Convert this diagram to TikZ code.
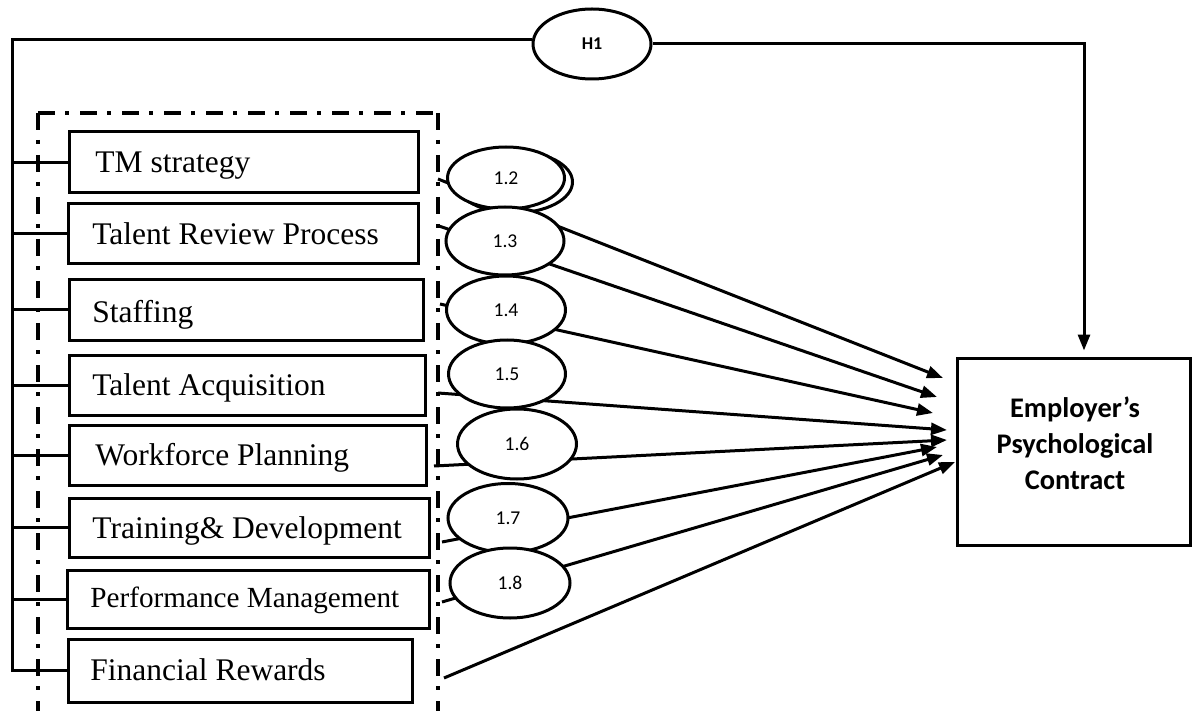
\documentclass[tikz,border=0pt]{standalone}
\usepackage{fontspec}
\setmainfont{Liberation Serif}
\newfontfamily\calib{Carlito}
\usetikzlibrary{arrows.meta,shapes.geometric}
\begin{document}
\begin{tikzpicture}[x=0.5pt,y=-0.5pt,
  ln/.style={line width=1.5pt},
  fbox/.style={draw,line width=1.5pt,rectangle,inner sep=0pt},
  ftext/.style={anchor=base west,inner sep=0pt,font=\fontsize{15.75}{18}\selectfont},
  oval/.style={draw,ellipse,fill=white,line width=1.5pt,inner sep=0pt,font=\calib\fontsize{9.8}{11}\selectfont},
  arr/.style={line width=1.5pt,-{Triangle[length=8pt,width=6pt]}},
  dd/.style={line width=2pt,dash pattern=on 8.5pt off 5pt on 2pt off 5.5pt}
]
\useasboundingbox (0,0) rectangle (1194,711);

% dash-dot frame
\draw[dd] (38,113) -- (438,113);
\draw[dd] (38,113) -- (38,711);
\draw[dd] (438,113) -- (438,711);

% left boxes
\node[fbox,minimum width=174.5pt,minimum height=30.5pt] (b1) at (243.5,162.5) {};
\node[fbox,minimum width=175pt,minimum height=30pt] (b2) at (243,234) {};
\node[fbox,minimum width=177pt,minimum height=30pt] (b3) at (246,310) {};
\node[fbox,minimum width=178pt,minimum height=30pt] (b4) at (247,385) {};
\node[fbox,minimum width=178.5pt,minimum height=30pt] (b5) at (247.5,455) {};
\node[fbox,minimum width=180pt,minimum height=29.5pt] (b6) at (249,527.5) {};
\node[fbox,minimum width=181pt,minimum height=29pt] (b7) at (248,599) {};
\node[fbox,minimum width=172pt,minimum height=31.5pt] (b8) at (240,670.5) {};

\node[ftext] (x1) at (95,173) {TM strategy};
\node[ftext] (x2) at (92,245) {Talent Review Process};
\node[ftext] (x3) at (92,322) {Staffing};
\node[ftext] (x4) at (92,395) {Talent Acquisition};
\node[ftext] (x5) at (95,465) {Workforce Planning};
\node[ftext] (x6) at (92,538) {Training\& Development};
\node[ftext,font=\fontsize{14.6}{17}\selectfont] (x7) at (90,607) {Performance Management};
\node[ftext] (x8) at (90,680) {Financial Rewards};

% right box
\node[fbox,minimum width=116.5pt,minimum height=93.5pt] (ep) at (1073.5,451.5) {};
\node[font=\calib\bfseries\fontsize{14.2}{18}\selectfont,align=center,inner sep=0pt] (ept) at (1075,443) {Employer’s\\Psychological\\Contract};

% H1
\node[oval,minimum width=59pt,minimum height=35pt,font=\calib\bfseries\fontsize{9}{11}\selectfont] (h1) at (592,44) {H1};
\coordinate (tl) at (12,40);
\coordinate (hc) at (1084,44);
\draw[ln] (h1.west |- tl) -- (tl) -- (tl |- b8.west) -- (b8.west);
\foreach \b in {b1,b2,b3,b4,b5,b6,b7} \draw[ln] (tl |- \b.west) -- (\b.west);
\draw[arr,shorten >=3pt] (h1.east) -- (hc) -- (hc |- ep.north);

% connectors to the right box
\coordinate (s1) at (438,179); \coordinate (t1) at (943,378);
\coordinate (s2) at (439,226); \coordinate (t2) at (937,397);
\coordinate (s3) at (440,304); \coordinate (t3) at (933,413);
\coordinate (s4) at (438,393); \coordinate (t4) at (947,430);
\coordinate (s5) at (434,466); \coordinate (t5) at (947,440);
\coordinate (s6) at (442,542); \coordinate (t6) at (937,447);
\coordinate (s7) at (442,602); \coordinate (t7) at (943,455);
\coordinate (s8) at (444,678); \coordinate (t8) at (955,462);
\foreach \i in {1,...,8} \draw[arr] (s\i) -- (t\i);

% ellipses
\node[oval,minimum width=58.5pt,minimum height=31pt] (e2b) at (514,182) {};
\node[oval,minimum width=58.5pt,minimum height=31pt] (e2) at (506,178) {1.2};
\node[oval,minimum width=59pt,minimum height=34pt] (e3) at (505,241) {1.3};
\node[oval,minimum width=59.5pt,minimum height=34pt] (e4) at (506,310) {1.4};
\node[oval,minimum width=58.5pt,minimum height=34pt] (e5) at (507,374) {1.5};
\node[oval,minimum width=59.5pt,minimum height=35pt] (e6) at (517,444) {1.6};
\node[oval,minimum width=60pt,minimum height=34.5pt] (e7) at (508,518) {1.7};
\node[oval,minimum width=60pt,minimum height=35pt] (e8) at (510,583) {1.8};
\end{tikzpicture}
\end{document}
